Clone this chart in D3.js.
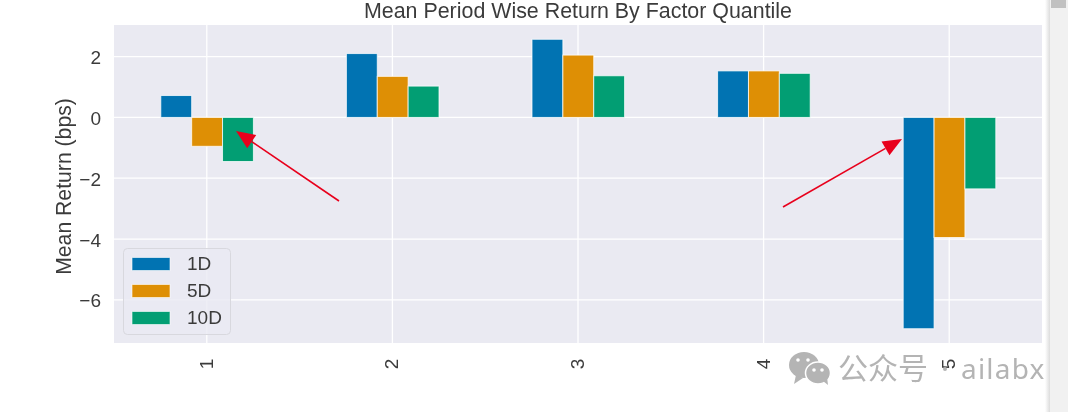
<!DOCTYPE html>
<html><head><meta charset="utf-8">
<script src="https://cdn.jsdelivr.net/npm/d3@7/dist/d3.min.js"></script>
<style>html,body{margin:0;padding:0;background:#fff;overflow:hidden}svg{display:block;filter:blur(0.35px)}text{font-family:"Liberation Sans",Arial,sans-serif}</style>
</head><body><svg id="c" width="1080" height="412"></svg>
<script>
const quantiles = ["1","2","3","4","5"];
const periods = ["1D","5D","10D"];
const returns1D = [0.72,2.1,2.57,1.53,-6.95];
const returns5D = [-0.95,1.35,2.05,1.53,-3.95];
const returns10D = [-1.45,1.03,1.37,1.45,-2.35];
const seriesValues = [returns1D,returns5D,returns10D];
const colors = ["#0173b2","#de8f05","#029e73"];
const yTicks = [2,0,-2,-4,-6];
const titleText = "Mean Period Wise Return By Factor Quantile";
const yLabel = "Mean Return (bps)";

const svg = d3.select("#c");
const L=114,R=1042,T=25,B=343;
const x = d3.scaleBand().domain(quantiles).range([L,R]);
const sub = d3.scaleBand().domain(periods).range([-46,46.6]);
const y = d3.scaleLinear().domain([3.04,-7.42]).range([T,B]);

svg.append("rect").attr("x",L).attr("y",T).attr("width",R-L).attr("height",B-T).attr("fill","#eaeaf2");
const grid = svg.append("g").attr("stroke","#fff").attr("stroke-width",1.3);
yTicks.forEach(t=>grid.append("line").attr("x1",L).attr("x2",R).attr("y1",y(t)).attr("y2",y(t)));
quantiles.forEach(q=>{const c=x(q)+x.bandwidth()/2;grid.append("line").attr("x1",c).attr("x2",c).attr("y1",T).attr("y2",B);});

periods.forEach((p,i)=>{
  svg.append("g").selectAll("rect").data(seriesValues[i]).join("rect")
   .attr("x",(d,j)=>x(quantiles[j])+x.bandwidth()/2+sub(p))
   .attr("width",sub.bandwidth())
   .attr("y",d=>Math.min(y(d),y(0)))
   .attr("height",d=>Math.abs(y(d)-y(0)))
   .attr("fill",colors[i]).attr("stroke","#fff").attr("stroke-opacity",0.75).attr("stroke-width",1);
});

const tc="#3b3b3b";
const yAxis = svg.append("g").attr("transform",`translate(${L},1)`).call(d3.axisLeft(y).tickValues(yTicks).tickSize(0).tickPadding(13).tickFormat(d=>String(d).replace("-","\u2212")));
yAxis.select(".domain").remove();
yAxis.selectAll("text").attr("font-size",19).attr("fill",tc).attr("style",'font-family:"Liberation Sans",Arial,sans-serif');
const xAxis = svg.append("g").attr("transform",`translate(0,${B})`).call(d3.axisBottom(x).tickSize(0).tickPadding(0));
xAxis.select(".domain").remove();
xAxis.selectAll("text").attr("font-size",19).attr("fill",tc).attr("text-anchor","middle")
  .attr("style",'font-family:"Liberation Sans",Arial,sans-serif').attr("dy",0).attr("y",0)
  .attr("transform","translate(6,21) rotate(-90)");

svg.append("text").attr("x",578).attr("y",18).attr("text-anchor","middle").attr("font-size",21.4).attr("fill",tc).text(titleText);
svg.append("text").attr("transform","translate(71,186.5) rotate(-90)").attr("text-anchor","middle").attr("font-size",21.2).attr("fill",tc).text(yLabel);

// legend
const lg = svg.append("g");
lg.append("rect").attr("x",123.5).attr("y",248.5).attr("width",107).attr("height",86).attr("rx",4).attr("fill","#eaeaf2").attr("fill-opacity",0.8).attr("stroke","#d8d8de").attr("stroke-width",1);
periods.forEach((p,i)=>{
  const ly = 263.5+27*i;
  lg.append("rect").attr("x",132).attr("y",ly-6).attr("width",38).attr("height",13).attr("fill",colors[i]).attr("stroke","#fff").attr("stroke-opacity",.6);
  lg.append("text").attr("x",187).attr("y",ly+6.5).attr("font-size",19).attr("fill",tc).text(p);
});

// arrows
const red="#e8001c";
function arrow(x1,y1,x2,y2){
  const a=Math.atan2(y2-y1,x2-x1),len=19,hw=8;
  const bx=x2-len*Math.cos(a),by=y2-len*Math.sin(a);
  svg.append("line").attr("x1",x1).attr("y1",y1).attr("x2",bx).attr("y2",by).attr("stroke",red).attr("stroke-width",1.6);
  svg.append("path").attr("fill",red).attr("d",`M${x2},${y2}L${bx-hw*Math.sin(a)},${by+hw*Math.cos(a)}L${bx+hw*Math.sin(a)},${by-hw*Math.cos(a)}Z`);
}
arrow(339,201,236,131);
arrow(783,207,902,139);

// scrollbar chrome
const shade = svg.append("defs").append("linearGradient").attr("id","sh");
shade.append("stop").attr("offset",0).attr("stop-color","#fff");
shade.append("stop").attr("offset",1).attr("stop-color","#dcdcdc");
svg.append("rect").attr("x",1045).attr("y",0).attr("width",5).attr("height",412).attr("fill","url(#sh)");
svg.append("rect").attr("x",1050).attr("y",0).attr("width",18).attr("height",412).attr("fill","#f1f1f1");
svg.append("rect").attr("x",1051).attr("y",0).attr("width",15).attr("height",8).attr("fill","#c1c1c1");

// watermark
const wm="#b4b4b4";
const ic = svg.append("g").attr("fill",wm);
ic.append("ellipse").attr("cx",804).attr("cy",365).attr("rx",15).attr("ry",13);
ic.append("path").attr("d","M796,375L794,384L803,378Z");
ic.append("ellipse").attr("cx",818).attr("cy",373).attr("rx",12.5).attr("ry",11).attr("stroke","#fff").attr("stroke-width",1.5);
ic.append("path").attr("d","M823,381L828,385L827,377Z");
[[798,360],[808,360],[814,370],[822,370]].forEach(d=>ic.append("circle").attr("cx",d[0]).attr("cy",d[1]).attr("r",1.8).attr("fill","#fff"));
svg.append("text").attr("x",838).attr("y",379).attr("font-size",30).attr("fill",wm).attr("style",'font-family:"Noto Sans CJK SC"').text("公众号");
svg.append("circle").attr("cx",945).attr("cy",369).attr("r",2).attr("fill",wm);
svg.append("text").attr("x",961).attr("y",379).attr("font-size",28).attr("fill",wm).attr("style",'font-family:"Noto Sans";letter-spacing:1.2px').text("ailabx");
</script></body></html>
